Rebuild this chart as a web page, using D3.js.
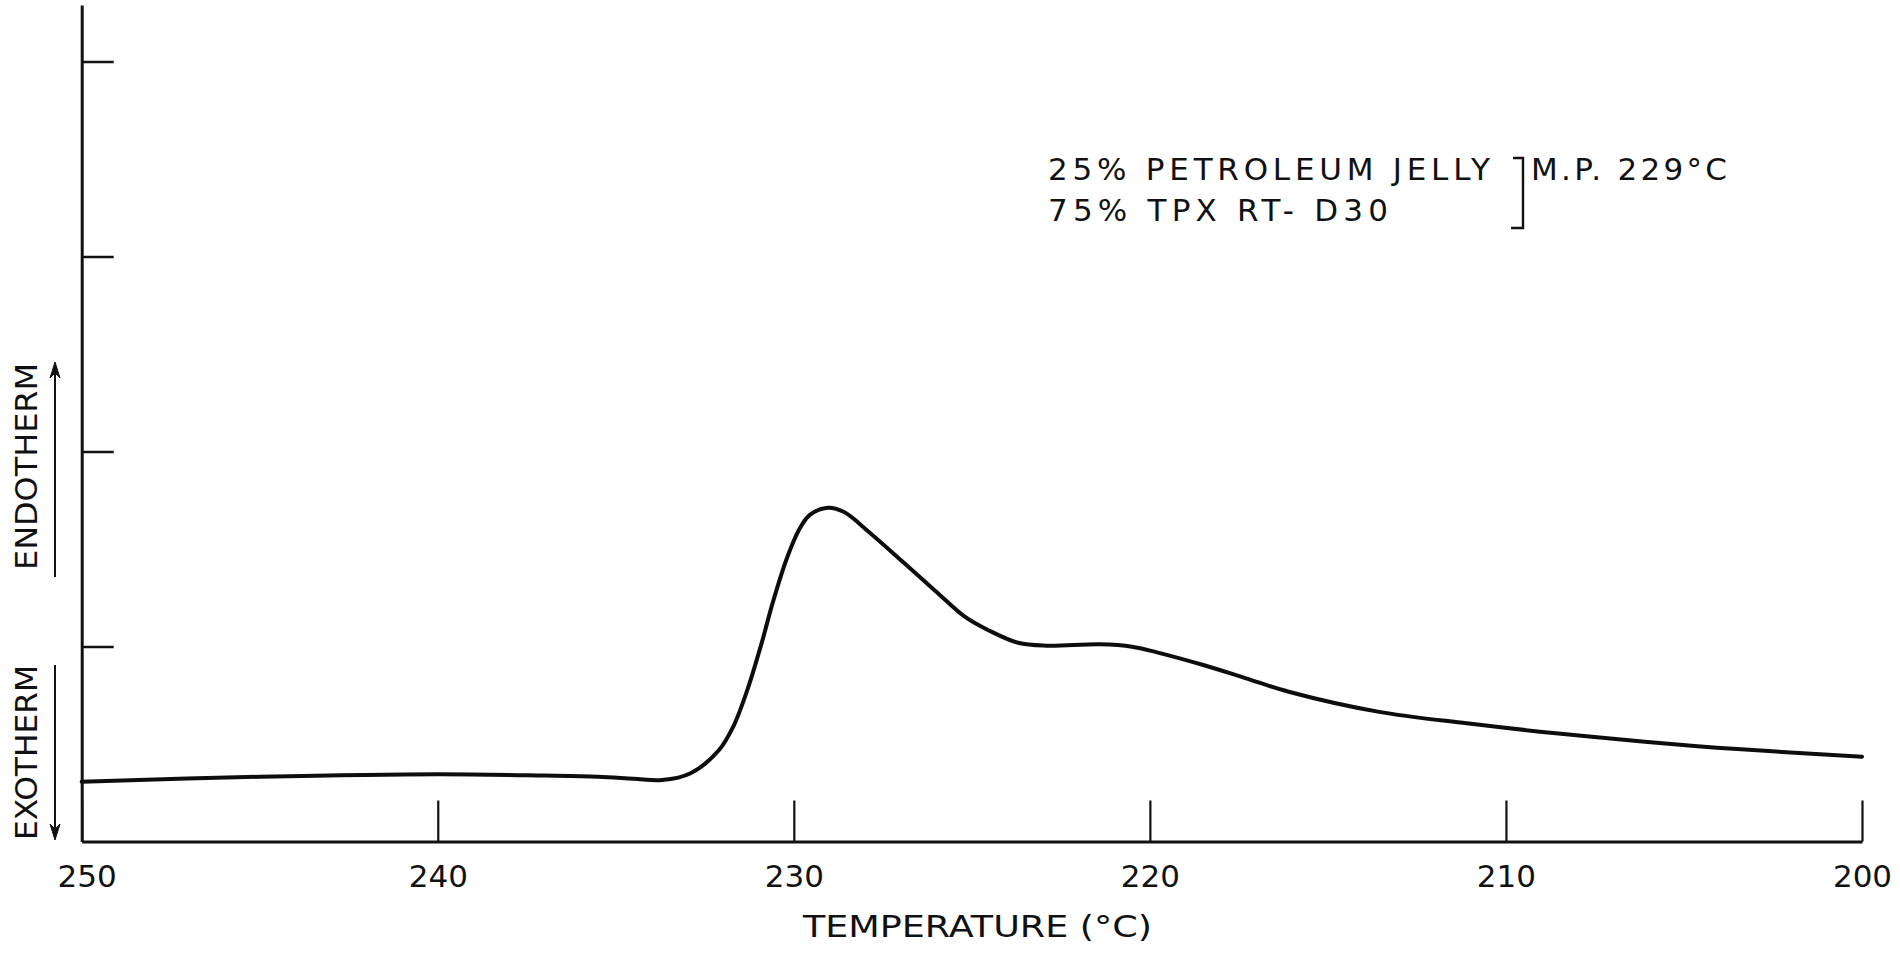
<!DOCTYPE html>
<html>
<head>
<meta charset="utf-8">
<script src="https://cdn.jsdelivr.net/npm/d3@7"></script>
<style>
  html, body { margin: 0; padding: 0; background: #fff; }
  svg { display: block; }
  text { font-family: "DejaVu Sans", "Liberation Sans", sans-serif; fill: #111; }
</style>
</head>
<body>
<svg id="chart" width="1900" height="956"></svg>
<script>
// DTA trace: temperature (°C, falling left to right) vs. differential signal (arbitrary units)
const temps = [250, 245, 240, 237, 235.5, 234.5, 233.7, 232.9, 232.1, 231.7, 231.3, 230.9, 230.6,
  230.2, 229.85, 229.55, 229.05, 228.6, 227.9, 226.9, 226.0, 225.2, 224.55, 223.7, 222.9, 221.4,
  220.5, 219.8, 218.5, 217.3, 216.1, 213.6, 211.1, 208.6, 206.1, 203.5, 200];
const signal = [0.307, 0.332, 0.345, 0.338, 0.332, 0.322, 0.315, 0.35, 0.469, 0.589, 0.78, 1.02, 1.22,
  1.45, 1.60, 1.675, 1.712, 1.691, 1.589, 1.428, 1.281, 1.153, 1.085, 1.019, 1.004, 1.011,
  0.999, 0.970, 0.905, 0.837, 0.768, 0.666, 0.606, 0.555, 0.512, 0.474, 0.435];

const xTicks = [250, 240, 230, 220, 210, 200];
const yTicks = [1, 2, 3, 4];
const xTitle = "TEMPERATURE (°C)";
const noteLines = ["25% PETROLEUM JELLY", "75% TPX RT- D30"];
const noteMP = "M.P. 229°C";

const svg = d3.select("#chart");

const x = d3.scaleLinear().domain([250, 200]).range([81.7, 1862]);
const y = d3.scaleLinear().domain([0, 4.29]).range([841.5, 5]);

// x axis: ticks point up into the plot, labels below
const xAxis = d3.axisBottom(x)
  .tickValues(xTicks)
  .tickSizeInner(-41)
  .tickSizeOuter(0)
  .tickPadding(23)
  .tickFormat(d3.format("d"));

const gx = svg.append("g")
  .attr("transform", `translate(0,${y(0)})`)
  .call(xAxis);
gx.select(".domain").attr("stroke", "#111").attr("stroke-width", 3);
gx.selectAll(".tick line").attr("stroke", "#111").attr("stroke-width", 2.2);
gx.selectAll(".tick text")
  .attr("font-size", 31)
  .attr("font-family", "DejaVu Sans")
  .attr("fill", "#111")
  .attr("dx", d => d === 250 ? 5 : 0);

// y axis: unlabeled, ticks point right
const yAxis = d3.axisLeft(y)
  .tickValues(yTicks)
  .tickSizeInner(-32)
  .tickSizeOuter(0)
  .tickFormat("");

const gy = svg.append("g")
  .attr("transform", `translate(${x(250)},0)`)
  .call(yAxis);
gy.select(".domain").attr("stroke", "#111").attr("stroke-width", 3);
gy.selectAll(".tick line").attr("stroke", "#111").attr("stroke-width", 2.6);

// trace
const pts = temps.map((t, i) => [t, signal[i]]);
const line = d3.line()
  .x(d => x(d[0]))
  .y(d => y(d[1]))
  .curve(d3.curveCatmullRom.alpha(0.5));

svg.append("path")
  .datum(pts)
  .attr("d", line)
  .attr("fill", "none")
  .attr("stroke", "#0d0d0d")
  .attr("stroke-width", 4)
  .attr("stroke-linejoin", "round")
  .attr("stroke-linecap", "round");

// x title
svg.append("text")
  .attr("x", 803)
  .attr("y", 937)
  .attr("font-size", 31)
  .attr("textLength", 349)
  .attr("lengthAdjust", "spacingAndGlyphs")
  .text(xTitle);

// composition note
noteLines.forEach((s, i) => {
  svg.append("text")
    .attr("x", 1048)
    .attr("y", 180 + i * 41)
    .attr("font-size", 31)
    .attr("textLength", i === 0 ? 442 : 340)
    .attr("lengthAdjust", "spacing")
    .text(s);
});
svg.append("path")
  .attr("d", "M1513,158 L1523,158 L1523,228 L1511,228")
  .attr("fill", "none")
  .attr("stroke", "#111")
  .attr("stroke-width", 2.4);
svg.append("text")
  .attr("x", 1531)
  .attr("y", 180)
  .attr("font-size", 31)
  .attr("textLength", 196)
  .attr("lengthAdjust", "spacing")
  .text(noteMP);

// direction labels with arrows
function sideLabel(label, yTop, yBottom) {
  const cy = (yTop + yBottom) / 2;
  svg.append("text")
    .attr("transform", `translate(37,${cy}) rotate(-90)`)
    .attr("text-anchor", "middle")
    .attr("font-size", 31)
    .attr("textLength", yBottom - yTop)
    .attr("lengthAdjust", "spacingAndGlyphs")
    .text(label);
}
sideLabel("ENDOTHERM", 363, 570);
sideLabel("EXOTHERM", 665, 840);

function arrow(x0, yFrom, yTip) {
  const dir = yTip < yFrom ? -1 : 1;
  svg.append("line")
    .attr("x1", x0).attr("x2", x0)
    .attr("y1", yFrom).attr("y2", yTip - dir * 6)
    .attr("stroke", "#111").attr("stroke-width", 2);
  svg.append("path")
    .attr("d", `M${x0},${yTip} L${x0 - 5},${yTip - dir * 16} L${x0},${yTip - dir * 11} L${x0 + 5},${yTip - dir * 16} Z`)
    .attr("fill", "#111").attr("stroke", "#111").attr("stroke-width", 1);
}
arrow(55, 577, 362);
arrow(55, 665, 840);
</script>
</body>
</html>
